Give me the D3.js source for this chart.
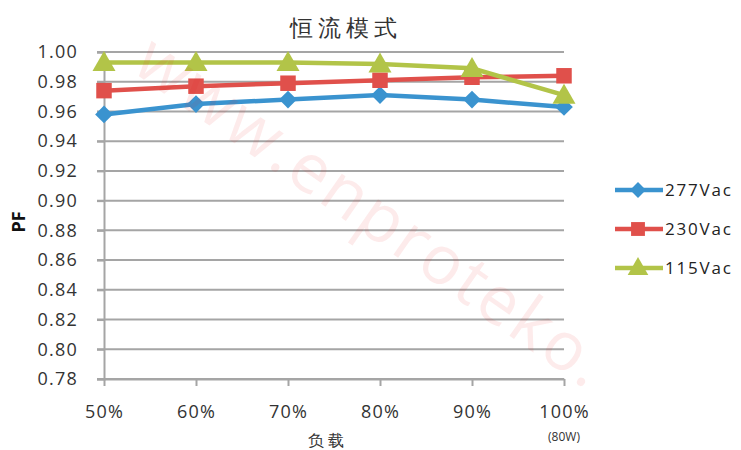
<!DOCTYPE html>
<html>
<head>
<meta charset="utf-8">
<script src="https://cdn.jsdelivr.net/npm/d3@7"></script>
<style>
	body { margin: 0; background: #fff; }
	svg { display: block; font-family: 'Open Sans', 'DejaVu Sans', sans-serif; }
</style>
</head>
<body>
<div id="chart"></div>
<script>
const loads = ['50%', '60%', '70%', '80%', '90%', '100%'];
const yTicks = [0.78, 0.80, 0.82, 0.84, 0.86, 0.88, 0.90, 0.92, 0.94, 0.96, 0.98, 1.00];

const pf277 = [0.958, 0.965, 0.968, 0.971, 0.968, 0.963];
const pf230 = [0.974, 0.977, 0.979, 0.981, 0.983, 0.984];
const pf115 = [0.993, 0.993, 0.993, 0.992, 0.989, 0.971];

const seriesNames = ['277Vac', '230Vac', '115Vac'];
const seriesColors = ['#3a93cf', '#e0504b', '#b2c448'];
const seriesShapes = [d3.symbolDiamond2, d3.symbolSquare, d3.symbolTriangle];

const width = 741;
const height = 450;

const svg = d3.select('#chart').append('svg')
	.attr('width', width)
	.attr('height', height);

const x = d3.scalePoint()
	.domain(loads)
	.range([104, 564]);

const y = d3.scaleLinear()
	.domain([0.78, 1.00])
	.range([379, 52]);

// gridlines
svg.append('g')
	.selectAll('line')
	.data(yTicks)
	.enter()
	.append('line')
	.attr('x1', 97)
	.attr('x2', 564)
	.attr('y1', d => y(d))
	.attr('y2', d => y(d))
	.style('stroke', '#a5a5a5')
	.style('stroke-width', 2);

// y axis
const yAxis = svg.append('g')
	.attr('transform', 'translate(104,0)')
	.call(d3.axisLeft(y).tickValues(yTicks).tickFormat(d3.format('.2f')).tickSize(7).tickPadding(19));

yAxis.select('.domain').style('stroke', '#a5a5a5').style('stroke-width', 2);
yAxis.selectAll('.tick line').style('stroke', '#a5a5a5').style('stroke-width', 2);
yAxis.selectAll('text')
	.attr('font-size', 18)
	.attr('letter-spacing', 1.2)
	.attr('fill', '#333')
	.style('font-family', "'Open Sans', sans-serif");

// x axis
const xAxis = svg.append('g')
	.attr('transform', 'translate(0,379)')
	.call(d3.axisBottom(x).tickSize(7).tickSizeOuter(0).tickPadding(22));

xAxis.select('.domain').style('stroke', '#a5a5a5').style('stroke-width', 2);
xAxis.selectAll('.tick line').style('stroke', '#a5a5a5').style('stroke-width', 2);
xAxis.selectAll('text')
	.attr('font-size', 18)
	.attr('letter-spacing', 1.2)
	.attr('fill', '#333')
	.attr('dy', '0.55em')
	.style('font-family', "'Open Sans', sans-serif");

svg.append('text')
	.attr('x', x('100%'))
	.attr('y', 441)
	.attr('text-anchor', 'middle')
	.attr('font-size', 12)
	.attr('fill', '#333')
	.text('(80W)');

// titles
svg.append('text')
	.attr('x', 346)
	.attr('y', 36)
	.attr('text-anchor', 'middle')
	.attr('font-size', 23)
	.attr('letter-spacing', 5)
	.attr('font-weight', 300)
	.attr('fill', '#333')
	.text('恒流模式');

svg.append('text')
	.attr('x', 328)
	.attr('y', 446)
	.attr('text-anchor', 'middle')
	.attr('font-size', 16)
	.attr('letter-spacing', 4)
	.attr('font-weight', 300)
	.attr('fill', '#333')
	.text('负载');

svg.append('text')
	.attr('transform', 'translate(25,222) rotate(-90)')
	.attr('text-anchor', 'middle')
	.attr('font-size', 18)
	.attr('font-weight', 'bold')
	.attr('fill', '#111')
	.text('PF');

// series
const allSeries = [pf277, pf230, pf115];

const line = d3.line()
	.x((d, i) => x(loads[i]))
	.y(d => y(d));

const symbolSizes = [200, 240, 230];

allSeries.forEach((values, s) => {
	const g = svg.append('g');

	g.append('path')
		.datum(values)
		.attr('d', line)
		.style('fill', 'none')
		.style('stroke', seriesColors[s])
		.style('stroke-width', 4.5);

	g.selectAll('path.marker')
		.data(values)
		.enter()
		.append('path')
		.attr('class', 'marker')
		.attr('transform', (d, i) => `translate(${x(loads[i])},${y(d) + (s === 2 ? 2 : 0)})`)
		.attr('d', d3.symbol().type(seriesShapes[s]).size(symbolSizes[s]))
		.style('fill', seriesColors[s]);
});

// legend
const legendY = [190, 229, 268];

const legend = svg.append('g');

seriesNames.forEach((name, s) => {
	legend.append('line')
		.attr('x1', 615)
		.attr('x2', 663)
		.attr('y1', legendY[s])
		.attr('y2', legendY[s])
		.style('stroke', seriesColors[s])
		.style('stroke-width', 4.5);

	legend.append('path')
		.attr('transform', `translate(638,${legendY[s] + (s === 2 ? 1 : 0)})`)
		.attr('d', d3.symbol().type(seriesShapes[s]).size(symbolSizes[s] * 0.8))
		.style('fill', seriesColors[s]);

	legend.append('text')
		.attr('x', 665)
		.attr('y', legendY[s])
		.attr('dy', '0.35em')
		.attr('font-size', 17)
		.attr('letter-spacing', 1.8)
		.attr('fill', '#222')
		.text(name);
});

// faint watermark over everything, sized so it stays inside the picture
const mark = svg.append('text')
	.attr('font-size', 100)
	.attr('fill', '#ee2222')
	.attr('fill-opacity', 0.09)
	.attr('letter-spacing', 4)
	.style('pointer-events', 'none')
	.text('www.enproteko.');

const markLen = mark.node().getComputedTextLength();
const markSize = 100 * 560 / markLen;
mark.attr('font-size', markSize)
	.attr('letter-spacing', 4 * markSize / 100)
	.attr('transform', 'translate(130,70) rotate(35)');
</script>
</body>
</html>
